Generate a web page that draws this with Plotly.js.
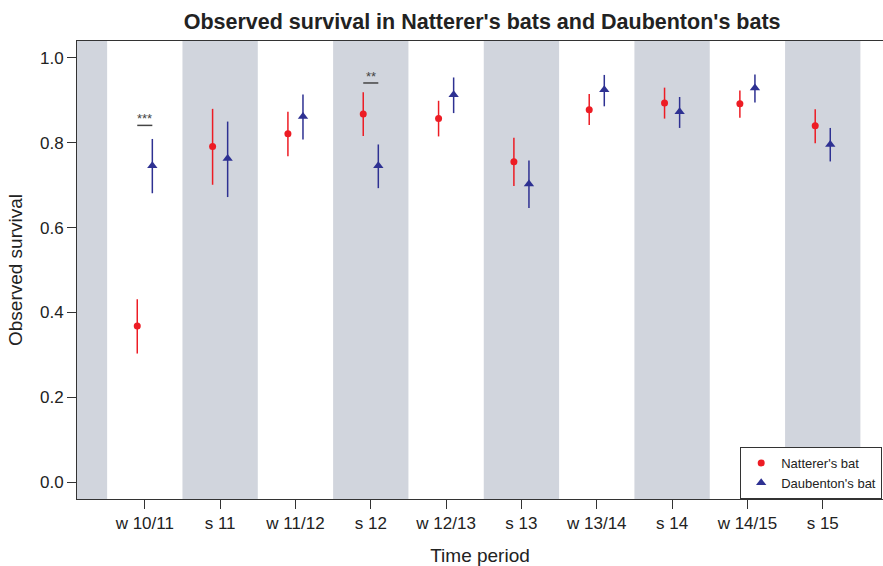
<!DOCTYPE html>
<html><head><meta charset="utf-8">
<script src="https://cdn.plot.ly/plotly-3.0.1.min.js"></script>
<style>html,body{margin:0;padding:0;background:#fff}</style>
</head><body><div id="chart" style="width:883px;height:566px"></div>
<script>
const periods = ['w 10/11','s 11','w 11/12','s 12','w 12/13','s 13','w 13/14','s 14','w 14/15','s 15'];
const nattererSurv = [0.368,0.791,0.821,0.868,0.857,0.755,0.878,0.894,0.892,0.840];
const nattererLow  = [0.303,0.701,0.768,0.816,0.815,0.698,0.842,0.857,0.859,0.799];
const nattererHigh = [0.431,0.880,0.873,0.919,0.899,0.812,0.915,0.930,0.923,0.879];
const daubSurv = [0.746,0.763,0.862,0.746,0.913,0.703,0.925,0.873,0.929,0.796];
const daubLow  = [0.681,0.672,0.808,0.693,0.870,0.646,0.886,0.835,0.895,0.756];
const daubHigh = [0.809,0.850,0.914,0.796,0.954,0.758,0.960,0.908,0.961,0.835];
const sigLabels = ['***','**'];
const sigPeriods = ['w 10/11','s 12'];
const sigLevel = [0.841,0.941];
// summer periods are shaded; 's 10' precedes the first period
const shadedPeriods = ['s 10','s 11','s 12','s 13','s 14','s 15'];
const yTicks = [0,0.2,0.4,0.6,0.8,1.0];

const idx = periods.map((p,i)=>i);
const off = 0.1;
const posOf = p => { const i = periods.indexOf(p); return i >= 0 ? i : -1; };

const red = '#ED1C24', blue = '#2E3192';
const traces = [
  {type:'scatter', mode:'markers', name:"Natterer's bat",
   x: idx.map(i=>i-off), y: nattererSurv,
   marker:{symbol:'circle', size:7, color:red},
   error_y:{type:'data', symmetric:false,
     array: nattererHigh.map((h,i)=>h-nattererSurv[i]),
     arrayminus: nattererLow.map((l,i)=>nattererSurv[i]-l),
     width:0, thickness:1.5, color:red}},
  {type:'scatter', mode:'markers', name:"Daubenton's bat",
   x: idx.map(i=>i+off), y: daubSurv,
   marker:{symbol:'triangle-up', size:9, color:blue},
   error_y:{type:'data', symmetric:false,
     array: daubHigh.map((h,i)=>h-daubSurv[i]),
     arrayminus: daubLow.map((l,i)=>daubSurv[i]-l),
     width:0, thickness:1.5, color:blue}}
];

const shapes = shadedPeriods.map(p=>({type:'rect', layer:'below', xref:'x', yref:'paper',
  x0: posOf(p)-0.5, x1: posOf(p)+0.5, y0:0, y1:1, fillcolor:'#D1D5DD', line:{width:0}}));
sigPeriods.forEach((p,k)=>{
  shapes.push({type:'line', xref:'x', yref:'y', x0: posOf(p)-off, x1: posOf(p)+off,
    y0: sigLevel[k], y1: sigLevel[k], line:{color:'#444', width:1.5}});
});
const annotations = sigPeriods.map((p,k)=>({xref:'x', yref:'y', x: posOf(p), y: sigLevel[k],
  text: sigLabels[k], showarrow:false, yanchor:'bottom', yshift:-3,
  font:{family:'Liberation Sans, Arial, sans-serif', size:13, color:'#444'}}));

const font = 'Liberation Sans, Arial, sans-serif';
const layout = {
  width:883, height:566,
  margin:{l:77, r:0, t:41, b:67, autoexpand:false},
  paper_bgcolor:'#fff', plot_bgcolor:'#fff',
  font:{family:font, color:'#222'},
  title:{text:"<b>Observed survival in Natterer's bats and Daubenton's bats</b>",
    font:{family:font, size:21.5, color:'#222'}, x:0.546, xanchor:'center', y:0.962, yanchor:'middle'},
  xaxis:{range:[-0.9,9.8], tickvals: idx, ticktext: periods, showgrid:false, zeroline:false,
    showline:true, linecolor:'#333', linewidth:1, mirror:true,
    ticks:'outside', ticklen:9, tickcolor:'#333', tickfont:{size:17, color:'#222'},
    title:{text:'Time period', font:{size:19, color:'#222'}, standoff:16}},
  yaxis:{range:[-0.04,1.04], tickvals: yTicks, ticktext: yTicks.map(v=>v.toFixed(1)),
    showgrid:false, zeroline:false, showline:true, linecolor:'#333', linewidth:1,
    ticks:'outside', ticklen:9, tickcolor:'#333', tickfont:{size:17, color:'#222'},
    title:{text:'Observed survival', font:{size:19, color:'#222'}, standoff:12}},
  legend:{x:0.999, xanchor:'right', y:0, yanchor:'bottom', bgcolor:'#fff',
    bordercolor:'#333', borderwidth:1, font:{size:13, color:'#222'}, itemwidth:30,
    tracegroupgap:0},
  shapes, annotations, showlegend:true
};
Plotly.newPlot('chart', traces, layout, {displayModeBar:false, staticPlot:true});
</script></body></html>
